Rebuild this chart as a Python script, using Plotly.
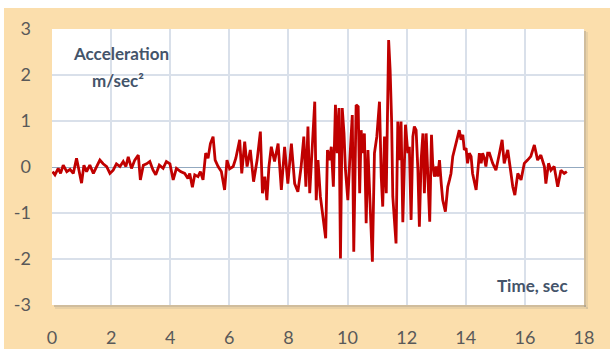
import plotly.graph_objects as go

# Ground acceleration record (time in seconds, acceleration in m/sec^2)
time_s = [
    0.02, 0.10, 0.21, 0.29, 0.38, 0.50, 0.61, 0.72, 0.83, 0.92,
    1.00, 1.08, 1.17, 1.28, 1.40, 1.51, 1.62, 1.73, 1.85, 1.96,
    2.07, 2.18, 2.30, 2.41, 2.50, 2.58, 2.69, 2.80, 2.92, 2.99,
    3.09, 3.20, 3.31, 3.42, 3.51, 3.63, 3.76, 3.87, 3.99, 4.10,
    4.21, 4.35, 4.49, 4.60, 4.66, 4.75, 4.83, 4.94, 5.02, 5.11,
    5.20, 5.28, 5.36, 5.45, 5.52, 5.62, 5.73, 5.84, 5.92, 6.01,
    6.13, 6.22, 6.35, 6.42, 6.52, 6.60, 6.71, 6.82, 6.94, 7.05,
    7.12, 7.20, 7.27, 7.34, 7.42, 7.53, 7.65, 7.76, 7.87, 7.98,
    8.10, 8.21, 8.32, 8.43, 8.52, 8.59, 8.66, 8.72, 8.81, 8.89,
    8.94, 9.00, 9.08, 9.17, 9.26, 9.32, 9.39, 9.45, 9.52, 9.59,
    9.65, 9.71, 9.76, 9.82, 9.88, 9.93, 10.01, 10.07, 10.16, 10.21,
    10.29, 10.36, 10.41, 10.46, 10.52, 10.57, 10.63, 10.69, 10.74, 10.84,
    10.91, 10.99, 11.08, 11.14, 11.19, 11.25, 11.31, 11.39, 11.44, 11.49,
    11.53, 11.59, 11.64, 11.70, 11.76, 11.81, 11.87, 11.96, 12.04, 12.09,
    12.15, 12.21, 12.26, 12.32, 12.38, 12.43, 12.49, 12.55, 12.60, 12.66,
    12.71, 12.78, 12.84, 12.88, 12.94, 13.00, 13.05, 13.11, 13.17, 13.22,
    13.31, 13.39, 13.45, 13.50, 13.56, 13.61, 13.69, 13.78, 13.84, 13.90,
    13.95, 14.01, 14.06, 14.12, 14.18, 14.23, 14.35, 14.40, 14.46, 14.52,
    14.57, 14.63, 14.68, 14.74, 14.80, 14.91, 15.02, 15.14, 15.23, 15.30,
    15.42, 15.53, 15.59, 15.66, 15.76, 15.87, 15.98, 16.09, 16.20, 16.32,
    16.43, 16.54, 16.66, 16.71, 16.80, 16.88, 16.99, 17.11, 17.22, 17.33,
    17.42,
]

accel = [
    -0.10, -0.17, -0.03, -0.14, 0.04, -0.10, -0.05, -0.14, 0.19, -0.14,
    -0.35, 0.04, -0.10, 0.04, -0.14, 0.01, 0.15, 0.07, 0.01, -0.14,
    -0.07, 0.07, 0.01, 0.12, 0.01, 0.22, -0.03, 0.15, 0.26, -0.28,
    0.04, 0.07, 0.12, -0.07, -0.17, 0.04, -0.03, 0.12, 0.07, -0.28,
    -0.03, -0.10, -0.14, -0.25, -0.14, -0.44, -0.17, -0.21, -0.10, -0.28,
    0.30, 0.19, 0.51, 0.66, 0.15, 0.01, -0.10, -0.50, 0.15, -0.04,
    0.01, 0.19, 0.59, -0.14, 0.55, 0.01, 0.37, -0.32, 0.15, 0.77,
    -0.57, -0.21, -0.72, 0.01, 0.44, 0.12, 0.51, -0.50, 0.44, -0.36,
    0.51, -0.36, -0.54, 0.01, 0.66, -0.43, 0.88, -0.57, 0.44, 1.42,
    -0.72, 0.15, -0.64, -1.15, -1.55, 0.37, 0.15, 0.44, -0.43, 1.35,
    0.30, 1.28, -1.99, 1.28, 0.73, -0.07, -0.72, 0.08, 1.13, -1.84,
    1.35, 1.31, -0.57, 0.80, 0.30, 0.73, -1.22, 0.37, -0.43, -2.06,
    0.30, 0.66, 1.42, -0.21, -0.86, 0.66, -0.57, 2.76, 2.11, 1.02,
    -0.64, -1.30, -1.66, 0.99, 0.15, 0.99, -1.20, 0.92, 0.30, 0.44,
    -1.15, 0.66, 0.88, 0.80, -0.07, -1.30, 0.15, 0.73, -0.57, 0.73,
    -0.07, -1.19, 0.70, 0.08, -0.21, 0.01, -0.21, 0.15, -0.36, -0.72,
    -0.97, -0.43, -0.28, -0.14, 0.23, 0.37, 0.59, 0.80, 0.59, 0.70,
    0.37, 0.41, 0.08, 0.30, 0.23, -0.14, -0.50, -0.07, 0.30, 0.08,
    0.30, 0.19, 0.01, 0.30, 0.30, 0.08, -0.07, 0.30, 0.59, 0.08,
    0.37, -0.14, -0.43, -0.61, -0.14, -0.28, 0.08, 0.15, 0.23, 0.48,
    0.15, 0.26, 0.01, -0.36, 0.08, -0.07, 0.01, -0.43, -0.07, -0.14,
    -0.10,
]

x_ticks = [0, 2, 4, 6, 8, 10, 12, 14, 16, 18]
y_ticks = [-3, -2, -1, 0, 1, 2, 3]

W_FIG, H_FIG = 610, 349
L, R, T, B = 52, 26, 29, 44
PW, PH = W_FIG - L - R, H_FIG - T - B

BEIGE = "rgb(251,222,172)"
GRID = "#D9E0EA"
TEXT_DARK = "#44546A"
TICK_COLOR = "#595959"


def px_x(px):
    return (px - L) / PW


def px_y(py):
    return (T + PH - py) / PH


def rect(x0, y0, x1, y1, color):
    return dict(type="rect", xref="paper", yref="paper",
                x0=px_x(x0), x1=px_x(x1), y0=px_y(y1), y1=px_y(y0),
                fillcolor=color, line=dict(width=0), layer="below")


fig = go.Figure()
fig.add_trace(go.Scatter(
    x=time_s, y=accel, mode="lines",
    line=dict(color="#C00000", width=2.8),
    hoverinfo="skip", showlegend=False,
))

shapes = [
    # white page margin above and left of the panel
    rect(0, 0, W_FIG, 8, "white"),
    rect(0, 0, 4, H_FIG, "white"),
    # soft shadow along the right and bottom of the plot area
    rect(L + PW, T + 2, L + PW + 2, T + PH + 2, "rgba(130,130,130,0.35)"),
    rect(L + PW + 2, T + 3, L + PW + 4, T + PH + 4, "rgba(130,130,130,0.15)"),
    rect(L + 2, T + PH, L + PW + 2, T + PH + 2, "rgba(130,130,130,0.35)"),
    rect(L + 3, T + PH + 2, L + PW + 4, T + PH + 4, "rgba(130,130,130,0.15)"),
]

fig.update_layout(
    width=W_FIG, height=H_FIG,
    margin=dict(l=L, r=R, t=T, b=B),
    paper_bgcolor=BEIGE, plot_bgcolor="white",
    font=dict(family="Lato, Carlito, sans-serif", color=TICK_COLOR, size=18),
    shapes=shapes,
    xaxis=dict(
        range=[0, 18], tickvals=x_ticks, ticktext=[str(v) for v in x_ticks],
        showgrid=True, gridcolor=GRID, gridwidth=1.5,
        zeroline=False, showline=False, ticks="",
        ticklabelstandoff=20, automargin=False, fixedrange=True,
    ),
    yaxis=dict(
        range=[-3, 3], tickvals=y_ticks, ticktext=[str(v) for v in y_ticks],
        showgrid=True, gridcolor=GRID, gridwidth=1.5,
        zeroline=True, zerolinecolor="#93A9C0", zerolinewidth=1.2,
        showline=False, ticks="", ticklabelstandoff=20,
        automargin=False, fixedrange=True,
    ),
    annotations=[
        dict(text="<b>Acceleration</b>", xref="paper", yref="paper",
             x=px_x(121), y=px_y(54), xanchor="center", yanchor="middle",
             showarrow=False, font=dict(size=17, color=TEXT_DARK)),
        dict(text="<b>m/sec²</b>", xref="paper", yref="paper",
             x=px_x(118), y=px_y(80), xanchor="center", yanchor="middle",
             showarrow=False, font=dict(size=17, color=TEXT_DARK)),
        dict(text="<b>Time, sec</b>", xref="paper", yref="paper",
             x=px_x(532), y=px_y(285), xanchor="center", yanchor="middle",
             showarrow=False, font=dict(size=17, color=TEXT_DARK)),
    ],
)

fig.write_html("out.html")
